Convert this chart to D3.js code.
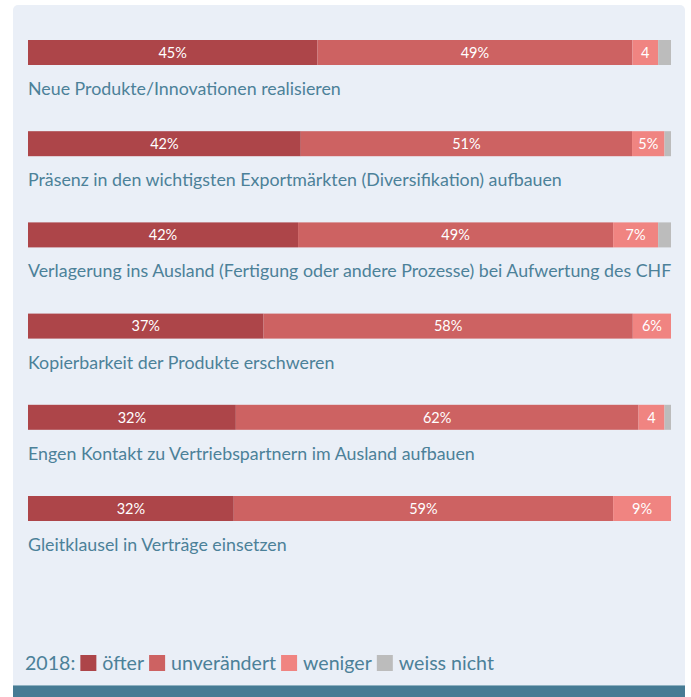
<!DOCTYPE html>
<html>
<head>
<meta charset="utf-8">
<script src="https://cdn.jsdelivr.net/npm/d3@7/dist/d3.min.js"></script>
<style>
  html, body { margin: 0; padding: 0; background: #ffffff; }
  svg { display: block; }
</style>
</head>
<body>
<svg id="chart" width="691" height="697"></svg>
<script>
// Survey answers per measure (percent, rounded as published)
const categories = [
  "Neue Produkte/Innovationen realisieren",
  "Präsenz in den wichtigsten Exportmärkten (Diversifikation) aufbauen",
  "Verlagerung ins Ausland (Fertigung oder andere Prozesse) bei Aufwertung des CHF",
  "Kopierbarkeit der Produkte erschweren",
  "Engen Kontakt zu Vertriebspartnern im Ausland aufbauen",
  "Gleitklausel in Verträge einsetzen"
];
const oefter       = [45, 42, 42, 37, 32, 32];
const unveraendert = [49, 51, 49, 58, 62, 59];
const weniger      = [4, 5, 7, 6, 4, 9];
const weissNicht   = [2, 1, 2, 0, 1, 0];

const seriesKeys   = ["öfter", "unverändert", "weniger", "weiss nicht"];
const seriesColors = ["#ad4549", "#cd6262", "#f08481", "#bcbcbc"];
const legendTitle  = "2018:";

const rows = categories.map((c, i) => ({
  category: c,
  "öfter": oefter[i],
  "unverändert": unveraendert[i],
  "weniger": weniger[i],
  "weiss nicht": weissNicht[i]
}));

const FONT = "Lato, 'Open Sans', sans-serif";
const textColor = "#4c8199";

const svg = d3.select("#chart");

// card background
svg.append("rect")
  .attr("x", 13).attr("y", 5)
  .attr("width", 672).attr("height", 692)
  .attr("rx", 5)
  .attr("fill", "#eaeff7");

// footer strip
svg.append("rect")
  .attr("x", 13).attr("y", 685)
  .attr("width", 672).attr("height", 12)
  .attr("fill", "#467b94");
svg.append("rect")
  .attr("x", 13).attr("y", 685)
  .attr("width", 672).attr("height", 1)
  .attr("fill", "#8fb1c1");

// rows: bar height 25 on a 91.2px step
const step = 91.2, barH = 25;
const pad = 1 - barH / step;
const x = d3.scaleLinear().domain([0, 1]).range([28, 671]);
const y = d3.scaleBand()
  .domain(categories)
  .range([40, 40 + step * (categories.length - pad)])
  .paddingInner(pad)
  .paddingOuter(0);

const stack = d3.stack().keys(seriesKeys).offset(d3.stackOffsetExpand);
const stacked = stack(rows);
const color = d3.scaleOrdinal().domain(seriesKeys).range(seriesColors);

const layers = svg.append("g").selectAll("g")
  .data(stacked)
  .join("g")
  .attr("fill", d => color(d.key));

layers.selectAll("rect")
  .data(d => d.map(p => ({ p, key: d.key })))
  .join("rect")
  .attr("x", d => x(d.p[0]))
  .attr("y", d => y(d.p.data.category))
  .attr("width", d => Math.max(0, x(d.p[1]) - x(d.p[0])))
  .attr("height", y.bandwidth());

// value labels inside segments (not for "weiss nicht")
const labelData = [];
stacked.forEach(layer => {
  if (layer.key === "weiss nicht") return;
  layer.forEach(p => {
    const v = p.data[layer.key];
    if (!v) return;
    const w = x(p[1]) - x(p[0]);
    labelData.push({
      x: (x(p[0]) + x(p[1])) / 2,
      y: y(p.data.category) + y.bandwidth() / 2,
      text: w < 30 ? String(v) : v + "%"
    });
  });
});

svg.append("g").selectAll("text")
  .data(labelData)
  .join("text")
  .attr("x", d => d.x)
  .attr("y", d => d.y)
  .attr("dy", "0.36em")
  .attr("text-anchor", "middle")
  .attr("fill", "#ffffff")
  .style("font-family", FONT)
  .style("font-size", "14.5px")
  .text(d => d.text);

// category labels under each bar
const catLabels = svg.append("g").selectAll("text")
  .data(categories)
  .join("text")
  .attr("x", 28)
  .attr("y", d => y(d) + 55)
  .attr("fill", textColor)
  .style("font-family", FONT)
  .style("font-size", "17.5px")
  .text(d => d);

// fit the longest label to the bar width
let maxW = 0;
catLabels.each(function () { maxW = Math.max(maxW, this.getComputedTextLength()); });
const catSize = 17.5 * 644 / maxW;
catLabels.style("font-size", catSize + "px");

// legend
const legend = svg.append("g");
const legendY = 670;
const probe = legend.append("text")
  .style("font-family", FONT).style("font-size", "18px").text("unverändert");
const legSize = 18 * 105 / probe.node().getComputedTextLength();
probe.remove();

let lx = 25;
const lt = legend.append("text")
  .attr("x", lx).attr("y", legendY)
  .attr("fill", textColor)
  .style("font-family", FONT)
  .style("font-size", legSize + "px")
  .text(legendTitle);
lx += lt.node().getComputedTextLength() + 5;
seriesKeys.forEach(k => {
  legend.append("rect")
    .attr("x", lx).attr("y", legendY - 15)
    .attr("width", 16).attr("height", 16)
    .attr("fill", color(k));
  lx += 22;
  const t = legend.append("text")
    .attr("x", lx).attr("y", legendY)
    .attr("fill", textColor)
    .style("font-family", FONT)
    .style("font-size", legSize + "px")
    .text(k);
  lx += t.node().getComputedTextLength() + 5;
});
</script>
</body>
</html>
